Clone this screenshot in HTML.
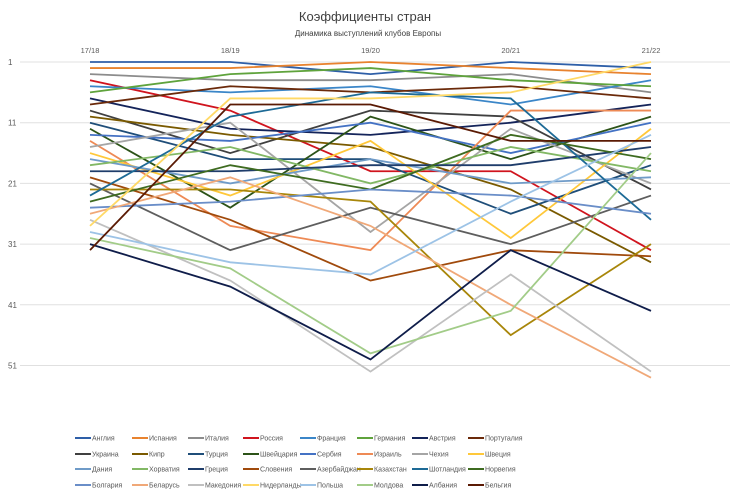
<!DOCTYPE html>
<html><head><meta charset="utf-8">
<style>
body{margin:0;background:#fff;font-family:"Liberation Sans","Noto Sans CJK SC",sans-serif;}
svg text{font-family:"Liberation Sans","Noto Sans CJK SC",sans-serif;}
</style></head>
<body>
<svg id="chart" width="730" height="496">
<rect width="730" height="496" fill="#fff"/>
<text x="365" y="21" text-anchor="middle" font-size="13" fill="#404040">Коэффициенты стран</text>
<text x="368" y="36" text-anchor="middle" font-size="8" fill="#404040">Динамика выступлений клубов Европы</text>
<g id="grid"></g><g id="series"></g><g id="legend"></g>
</svg>
<script>
const categories=["17/18","18/19","19/20","20/21","21/22"];
const yTicks=[1,11,21,31,41,51];
const countries=["Англия","Испания","Италия","Россия","Франция","Германия","Австрия","Португалия","Украина","Кипр","Турция","Швейцария","Сербия","Израиль","Чехия","Швеция","Дания","Хорватия","Греция","Словения","Азербайджан","Казахстан","Шотландия","Норвегия","Болгария","Беларусь","Македония","Нидерланды","Польша","Молдова","Албания","Бельгия"];
const ranks=[
[1,1,3,1,2],[2,2,1,2,3],[3,4,4,3,6],[4,9,19,19,32],[5,6,5,8,4],[6,3,2,4,5],[7,12,13,11,8],[8,5,6,5,7],
[9,16,9,10,22],[10,13,15,22,34],[11,17,17,26,18],[12,25,10,17,10],[13,14,11,16,11],[14,28,32,9,9],[15,11,29,12,21],[16,23,14,30,12],
[17,21,17,21,20],[18,15,21,15,19],[19,19,18,18,15],[20,27,37,32,33],[21,32,25,31,23],[22,22,24,46,31],[23,10,6,7,27],[24,18,22,13,17],
[25,24,22,23,26],[26,20,28,41,53],[27,37,52,36,52],[28,7,7,6,1],[29,34,36,24,13],[30,35,49,42,16],[31,38,50,32,42],[32,8,8,14,14]];
const colors=["#2e5fa8","#e8832f","#8c8c8c","#d0141e","#3b86c8","#5fa33c","#14245a","#6b2a0a",
"#404040","#7a5a00","#1f4e79","#2c5318","#4472c4","#ee8a55","#a5a5a5","#ffc83a",
"#6f9bc8","#82b865","#1f3d6b","#a04a0c","#5e5e5e","#a8860a","#1d6a96","#3e6b20",
"#6a8ec8","#f0a878","#c0c0c0","#ffd966","#9dc3e6","#a2cc88","#0f1d4a","#5a1a04"];
const xs=i=>90+i*140.25;
const ys=r=>62+(r-1)*6.07;
const NS="http://www.w3.org/2000/svg";
const grid=document.getElementById('grid');
yTicks.forEach(t=>{
  const l=document.createElementNS(NS,'line');
  
  
  l.setAttribute('x1',20);l.setAttribute('x2',730);l.setAttribute('y1',ys(t));l.setAttribute('y2',ys(t));
  l.setAttribute('stroke','#e0e0e0');l.setAttribute('stroke-width','1');grid.appendChild(l);
  const tx=document.createElementNS(NS,'text');
  
  
  tx.setAttribute('x',8);tx.setAttribute('y',ys(t)+3);tx.setAttribute('font-size','8');tx.setAttribute('fill','#595959');
  tx.textContent=t;grid.appendChild(tx);
});
categories.forEach((c,i)=>{
  const tx=document.createElementNS(NS,'text');
  
  
  tx.setAttribute('x',xs(i));tx.setAttribute('y',53);tx.setAttribute('font-size','7.5');tx.setAttribute('text-anchor','middle');tx.setAttribute('fill','#595959');
  tx.textContent=c;grid.appendChild(tx);
});
const sg=document.getElementById('series');
ranks.forEach((r,k)=>{
  const p=document.createElementNS(NS,'polyline');
  
  
  p.setAttribute('points',r.map((v,i)=>xs(i)+','+ys(v)).join(' '));
  p.setAttribute('fill','none');p.setAttribute('stroke',colors[k]);p.setAttribute('stroke-width','1.8');
  sg.appendChild(p);
});
const lg=document.getElementById('legend');
const colX=[75,132,188,243,300,357,412,468];
const rowY=[438,454,469,485];
countries.forEach((n,k)=>{
  const cx=colX[k%8]+0, cy=rowY[Math.floor(k/8)];
  const g=document.createElementNS(NS,'g');
  
  
  const l=document.createElementNS(NS,'line');
  l.setAttribute('x1',cx);l.setAttribute('x2',cx+16);l.setAttribute('y1',cy);l.setAttribute('y2',cy);
  l.setAttribute('stroke',colors[k]);l.setAttribute('stroke-width','2');g.appendChild(l);
  const t=document.createElementNS(NS,'text');
  t.setAttribute('x',cx+17);t.setAttribute('y',cy+2.5);t.setAttribute('font-size','7');t.setAttribute('fill','#595959');
  t.textContent=n;g.appendChild(t);
  lg.appendChild(g);
});
</script>
</body></html>
